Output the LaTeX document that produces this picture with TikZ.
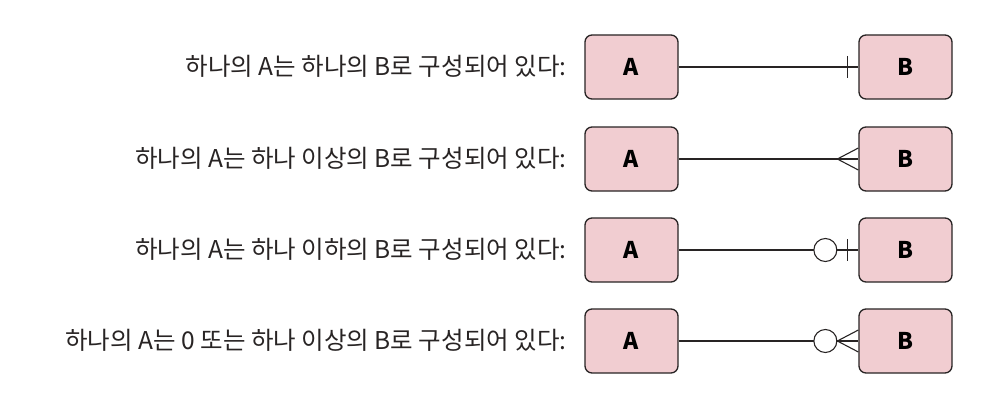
\documentclass[tikz,border=0pt]{standalone}
\usepackage{fontspec}
\setmainfont{Noto Sans CJK KR}
\usepackage{tikz}
\usetikzlibrary{arrows.meta,positioning,calc}
\usepackage{xcolor}
\definecolor{BoxPink}{RGB}{241,205,209}
\definecolor{InkGray}{RGB}{40,36,36}

\tikzset{
  entity/.style={draw=InkGray,line width=1.3pt,fill=BoxPink,rounded corners=7pt,
                 minimum width=93pt,minimum height=64pt,inner sep=0pt,
                 font=\fontsize{23}{27}\selectfont\bfseries},
  relline/.style={draw=InkGray,line width=1.1pt},
  caption/.style={anchor=east,text=InkGray,font=\fontsize{24.5}{28}\selectfont}
}

\begin{document}
\begin{tikzpicture}[x=1pt,y=-1pt]
  \useasboundingbox (0,0) rectangle (996,412);
  % Row 1: exactly one
  \node[entity] (a1) at (631.5,67) {A};
  \node[entity] (b1) at (905.5,67) {B};
  \node[caption] (t1) at (570,66) {하나의 A는 하나의 B로 구성되어 있다:};
  \draw[relline] (a1.east) -- (b1.west);
  \draw[relline] ($(b1.west)+(-11,-11)$) -- ($(b1.west)+(-11,11)$);
  % Row 2: one or more
  \node[entity] (a2) at (631.5,159) {A};
  \node[entity] (b2) at (905.5,159) {B};
  \node[caption] (t2) at (570,158) {하나의 A는 하나 이상의 B로 구성되어 있다:};
  \draw[relline] (a2.east) -- (b2.west);
  \draw[relline] ($(b2.west)+(0,-11)$) -- ($(b2.west)+(-21,0)$) -- ($(b2.west)+(0,11)$);
  % Row 3: zero or one
  \node[entity] (a3) at (631.5,250) {A};
  \node[entity] (b3) at (905.5,250) {B};
  \node[caption] (t3) at (570,249) {하나의 A는 하나 이하의 B로 구성되어 있다:};
  \draw[relline] (a3.east) -- (b3.west);
  \draw[relline,fill=white] ($(b3.west)+(-33,0)$) circle (11.5);
  \draw[relline] ($(b3.west)+(-11,-11)$) -- ($(b3.west)+(-11,11)$);
  % Row 4: zero or more
  \node[entity] (a4) at (631.5,341) {A};
  \node[entity] (b4) at (905.5,341) {B};
  \node[caption] (t4) at (570,340) {하나의 A는 0 또는 하나 이상의 B로 구성되어 있다:};
  \draw[relline] (a4.east) -- (b4.west);
  \draw[relline,fill=white] ($(b4.west)+(-33,0)$) circle (11.5);
  \draw[relline] ($(b4.west)+(0,-11)$) -- ($(b4.west)+(-21,0)$) -- ($(b4.west)+(0,11)$);
\end{tikzpicture}
\end{document}
